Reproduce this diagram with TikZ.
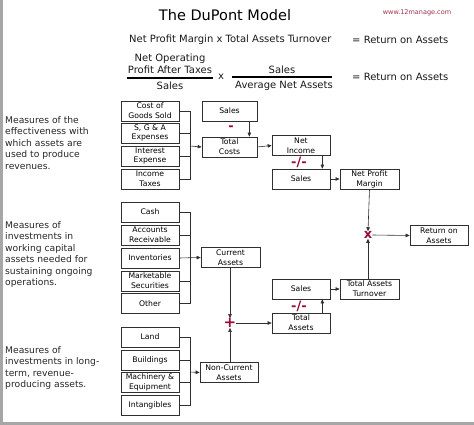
\documentclass[tikz,border=0pt]{standalone}
\usepackage{fontspec}
\setmainfont{DejaVu Sans}
\usetikzlibrary{arrows.meta}
\definecolor{opred}{HTML}{9B0A3C}
\definecolor{webred}{HTML}{A0304A}
\definecolor{edge}{HTML}{303030}
\tikzset{
  bx/.style={draw=edge, line width=0.7pt, fill=white, inner sep=0pt, align=center,
    minimum width=58pt, minimum height=20pt, font=\fontsize{7.7}{9.8}\selectfont},
  arr/.style={-{Triangle[length=4pt,width=3.5pt]}, line width=0.6pt, draw=edge},
  ln/.style={line width=0.6pt, draw=edge},
  op/.style={text=opred, font=\fontsize{13}{13}\bfseries\selectfont, inner sep=0pt},
  side/.style={align=left, anchor=north west, inner sep=0pt, text=black!85,
    font=\fontsize{9.2}{11.5}\selectfont},
  hdr/.style={inner sep=0pt, font=\fontsize{10}{12}\selectfont, text=black!90}
}
\begin{document}
\begin{tikzpicture}[x=1pt,y=-1pt]
\useasboundingbox (0,0) rectangle (474,425);
\fill[black!35] (0,0) rectangle (2.5,425);
\fill[black!35] (0,422) rectangle (474,425);

% titles
\node[inner sep=0pt, font=\fontsize{14.5}{15}\selectfont] (title) at (225,15) {The DuPont Model};
\node[inner sep=0pt, text=webred, font=\fontsize{6.5}{7}\selectfont] (web) at (417,13) {www.12manage.com};
\node[hdr, anchor=west] (h1) at (129,40) {Net Profit Margin x Total Assets Turnover};
\node[hdr, anchor=west] (h2) at (352,40) {= Return on Assets};
\node[hdr, align=center] (f1n) at (170,64) {Net Operating\\Profit After Taxes};
\draw[line width=1.6pt] (127,78) -- (213,78);
\node[hdr] (f1d) at (170,86) {Sales};
\node[hdr] (fx) at (221,77) {x};
\node[hdr] (f2n) at (282,70) {Sales};
\draw[line width=1.6pt] (232,77) -- (332,77);
\node[hdr] (f2d) at (284,86) {Average Net Assets};
\node[hdr, anchor=west] (h3) at (352,77) {= Return on Assets};

% left descriptions
\node[side] (d1) at (5,116) {Measures of the\\effectiveness with\\which assets are\\used to produce\\revenues.};
\node[side] (d2) at (5,221) {Measures of\\investments in\\working capital\\assets needed for\\sustaining ongoing\\operations.};
\node[side] (d3) at (5,346) {Measures of\\investments in long-\\term, revenue-\\producing assets.};

% cost group
\node[bx] (cogs) at (150,111) {Cost of\\Goods Sold};
\node[bx] (sga)  at (150,133) {S, G \& A\\Expenses};
\node[bx] (int)  at (150,156) {Interest\\Expense};
\node[bx] (tax)  at (150,179) {Income\\Taxes};
\coordinate (b1) at (190,146);
\draw[ln] (cogs.east) -| (b1);
\draw[ln] (tax.east) -| (b1);
\draw[ln] (sga.east) -- (sga.east -| b1);
\draw[ln] (int.east) -- (int.east -| b1);

\node[bx, minimum width=55pt] (s1) at (229.5,111) {Sales};
\node[bx, minimum width=55pt] (tc) at (229.5,147) {Total\\Costs};
\node[op] (minus) at (231,128) {-};
\draw[arr] (b1) -- (tc.west);
\draw[arr] ([xshift=-8pt]s1.south east) -- ([xshift=-8pt]tc.north east);

\node[bx] (ni) at (301,145.5) {Net\\Income};
\node[bx] (s2) at (301,179) {Sales};
\node[op] (div1) at (299,162) {-/-};
\draw[arr] (tc.east) -- (ni.west);
\draw[arr] ([xshift=-8pt]ni.south east) -- ([xshift=-8pt]s2.north east);
\node[bx, minimum width=59pt] (npm) at (369.5,179) {Net Profit\\Margin};
\draw[arr] (s2.east) -- (npm.west);

\node[op] (xm) at (368,235) {x};
\node[bx] (roa) at (439,235.5) {Return on\\Assets};
\draw[arr] (npm.south) -- (xm.north);
\draw[arr] (xm.east) -- (roa.west);

% current assets
\node[bx] (cash) at (150,212) {Cash};
\node[bx] (ar)   at (150,235) {Accounts\\Receivable};
\node[bx] (inv)  at (150,258) {Inventories};
\node[bx] (ms)   at (150,281) {Marketable\\Securities};
\node[bx] (oth)  at (150,303.5) {Other};
\coordinate (b2) at (190,258);
\draw[ln] (cash.east) -| (b2);
\draw[ln] (oth.east) -| (b2);
\draw[ln] (ar.east) -- (ar.east -| b2);
\draw[ln] (ms.east) -- (ms.east -| b2);
\node[bx, minimum width=59pt] (ca) at (230.5,257.5) {Current\\Assets};
\draw[arr] (inv.east) -- (ca.west);

% non-current
\node[bx] (land) at (150,337) {Land};
\node[bx] (bld)  at (150,360.5) {Buildings};
\node[bx] (mach) at (150,382.5) {Machinery \&\\Equipment};
\node[bx] (intg) at (150,405.5) {Intangibles};
\coordinate (b3) at (190,372);
\draw[ln] (land.east) -| (b3);
\draw[ln] (intg.east) -| (b3);
\draw[ln] (bld.east) -- (bld.east -| b3);
\draw[ln] (mach.east) -- (mach.east -| b3);
\node[bx] (nca) at (229,372.5) {Non-Current\\Assets};
\draw[arr] (b3) -- (nca.west);

\node[op, font=\fontsize{15}{15}\bfseries\selectfont] (plus) at (230,323) {+};
\draw[arr] (ca.south -| plus) -- (plus.north);
\draw[arr] (nca.north -| plus) -- (plus.south);

\node[bx] (ta) at (301,323) {Total\\Assets};
\node[bx] (s3) at (301,289) {Sales};
\node[op] (div2) at (299,306) {-/-};
\draw[arr] (plus.east) -- (ta.west);
\draw[arr] ([xshift=-8pt]ta.north east) -- ([xshift=-8pt]s3.south east);
\node[bx, minimum width=59pt] (tat) at (369.5,289) {Total Assets\\Turnover};
\draw[arr] (s3.east) -- (tat.west);
\draw[arr] (tat.north -| xm) -- (xm.south);
\end{tikzpicture}
\end{document}
